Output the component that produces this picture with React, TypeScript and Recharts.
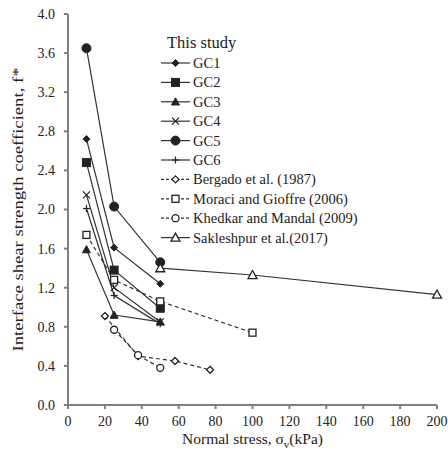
import { LineChart, Line, XAxis, YAxis } from "recharts";

const STUDY_STRESS = [10, 25, 50];
const GC1 = [2.72, 1.61, 1.24];
const GC2 = [2.48, 1.38, 0.99];
const GC3 = [1.59, 0.92, 0.85];
const GC4 = [2.15, 1.2, 0.85];
const GC5 = [3.65, 2.03, 1.46];
const GC6 = [2.01, 1.12, 0.83];

const BERGADO_STRESS = [20, 38, 58, 77];
const BERGADO = [0.91, 0.5, 0.45, 0.36];
const MORACI_STRESS = [10, 25, 50, 100];
const MORACI = [1.74, 1.28, 1.06, 0.74];
const KHEDKAR_STRESS = [25, 38, 50];
const KHEDKAR = [0.77, 0.51, 0.38];
const SAKLESHPUR_STRESS = [50, 100, 200];
const SAKLESHPUR = [1.4, 1.33, 1.13];

const X_TICKS = [0, 20, 40, 60, 80, 100, 120, 140, 160, 180, 200];
const Y_TICKS = [0, 0.4, 0.8, 1.2, 1.6, 2.0, 2.4, 2.8, 3.2, 3.6, 4.0];

type MarkerType = "diamond" | "square" | "triangle" | "cross" | "circle" | "plus";

interface SeriesDef {
  name: string;
  xs: number[];
  ys: number[];
  marker: MarkerType;
  filled: boolean;
  dashed: boolean;
  size: number;
}

const SERIES: SeriesDef[] = [
  { name: "GC1", xs: STUDY_STRESS, ys: GC1, marker: "diamond", filled: true, dashed: false, size: 3.5 },
  { name: "GC2", xs: STUDY_STRESS, ys: GC2, marker: "square", filled: true, dashed: false, size: 4 },
  { name: "GC3", xs: STUDY_STRESS, ys: GC3, marker: "triangle", filled: true, dashed: false, size: 4 },
  { name: "GC4", xs: STUDY_STRESS, ys: GC4, marker: "cross", filled: true, dashed: false, size: 3.5 },
  { name: "GC5", xs: STUDY_STRESS, ys: GC5, marker: "circle", filled: true, dashed: false, size: 4.5 },
  { name: "GC6", xs: STUDY_STRESS, ys: GC6, marker: "plus", filled: true, dashed: false, size: 3.5 },
  { name: "Bergado et al. (1987)", xs: BERGADO_STRESS, ys: BERGADO, marker: "diamond", filled: false, dashed: true, size: 3.5 },
  { name: "Moraci and Gioffre (2006)", xs: MORACI_STRESS, ys: MORACI, marker: "square", filled: false, dashed: true, size: 3.5 },
  { name: "Khedkar and Mandal (2009)", xs: KHEDKAR_STRESS, ys: KHEDKAR, marker: "circle", filled: false, dashed: true, size: 3.5 },
  { name: "Sakleshpur et al.(2017)", xs: SAKLESHPUR_STRESS, ys: SAKLESHPUR, marker: "triangle", filled: false, dashed: false, size: 4.5 },
];

const INK = "#222";
const LINE = "#333";
const AXIS = "#808080";
const FONT = "'Liberation Serif', 'DejaVu Serif', serif";

function Marker({ type, cx, cy, filled, size }: { type: MarkerType; cx: number; cy: number; filled: boolean; size: number }) {
  const fill = filled ? INK : "#fff";
  const s = size;
  const sw = filled ? 1 : 1.3;
  switch (type) {
    case "diamond":
      return <polygon points={`${cx},${cy - s} ${cx + s},${cy} ${cx},${cy + s} ${cx - s},${cy}`} fill={fill} stroke={INK} strokeWidth={sw} />;
    case "square":
      return <rect x={cx - s} y={cy - s} width={2 * s} height={2 * s} fill={fill} stroke={INK} strokeWidth={sw} />;
    case "triangle":
      return <polygon points={`${cx},${cy - s} ${cx + s},${cy + s * 0.8} ${cx - s},${cy + s * 0.8}`} fill={fill} stroke={INK} strokeWidth={sw} />;
    case "circle":
      return <circle cx={cx} cy={cy} r={s} fill={fill} stroke={INK} strokeWidth={sw} />;
    case "cross":
      return (
        <g stroke={INK} strokeWidth={1.2}>
          <line x1={cx - s} y1={cy - s} x2={cx + s} y2={cy + s} />
          <line x1={cx - s} y1={cy + s} x2={cx + s} y2={cy - s} />
        </g>
      );
    case "plus":
      return (
        <g stroke={INK} strokeWidth={1.2}>
          <line x1={cx - s} y1={cy} x2={cx + s} y2={cy} />
          <line x1={cx} y1={cy - s} x2={cx} y2={cy + s} />
        </g>
      );
  }
}

function LegendBox() {
  const rowH = 19.4;
  return (
    <svg width={280} height={250} style={{ position: "absolute", left: 161, top: 0, overflow: "visible" }}>
      <text x={6} y={48} fontFamily={FONT} fontSize={16.5} fill={INK}>
        This study
      </text>
      {SERIES.map((s, i) => {
        const cy = 63 + i * rowH;
        return (
          <g key={s.name}>
            <line x1={0} y1={cy} x2={29} y2={cy} stroke={LINE} strokeWidth={1.2} strokeDasharray={s.dashed ? "3 2" : undefined} />
            <Marker type={s.marker} cx={14.5} cy={cy} filled={s.filled} size={s.size} />
            <text x={32} y={cy + 5} fontFamily={FONT} fontSize={14.5} fill={INK}>
              {s.name}
            </text>
          </g>
        );
      })}
    </svg>
  );
}

function XLabel(props: any) {
  const vb = props.viewBox || {};
  const cx = vb.x + vb.width / 2;
  return (
    <text x={cx} y={444} textAnchor="middle" fontFamily={FONT} fontSize={15.5} fill={INK}>
      Normal stress, σ
      <tspan fontSize={11} dy={4}>v</tspan>
      <tspan dy={-4}>(kPa)</tspan>
    </text>
  );
}

function YLabel(props: any) {
  const vb = props.viewBox || {};
  const cy = vb.y + vb.height / 2;
  return (
    <text
      x={18}
      y={cy}
      transform={`rotate(-90 18 ${cy})`}
      textAnchor="middle"
      dominantBaseline="central"
      fontFamily={FONT}
      fontSize={15}
      textLength={284}
      lengthAdjust="spacingAndGlyphs"
      fill={INK}
    >
      Interface shear strength coefficient, f*
    </text>
  );
}

export default function App() {
  return (
    <div style={{ position: "absolute", left: 0, top: 0, width: 448, height: 454, background: "#fff" }}>
      <LineChart width={448} height={454} margin={{ top: 14, right: 11, left: 0, bottom: 0 }}>
        <XAxis
          type="number"
          dataKey="x"
          domain={[0, 200]}
          ticks={X_TICKS}
          interval={0}
          allowDuplicatedCategory={false}
          height={49}
          stroke={AXIS}
          strokeWidth={2}
          tickSize={4}
          tickMargin={7}
          tick={{ fontFamily: FONT, fontSize: 14, fill: INK }}
          label={<XLabel />}
        />
        <XAxis xAxisId="top" orientation="top" type="number" domain={[0, 200]} tick={false} tickLine={false} height={0} stroke={AXIS} strokeWidth={2} />
        <YAxis
          type="number"
          domain={[0, 4]}
          ticks={Y_TICKS}
          interval={0}
          width={68}
          stroke={AXIS}
          strokeWidth={2}
          tickSize={4}
          tickMargin={9}
          tickFormatter={(v: number) => v.toFixed(1)}
          tick={{ fontFamily: FONT, fontSize: 14, fill: INK }}
          label={<YLabel />}
        />
        <YAxis yAxisId="right" orientation="right" type="number" domain={[0, 4]} tick={false} tickLine={false} width={0} stroke={AXIS} strokeWidth={2} />
        {SERIES.map((s) => (
          <Line
            key={s.name}
            name={s.name}
            data={s.xs.map((x, i) => ({ x, y: s.ys[i] }))}
            dataKey="y"
            stroke={LINE}
            strokeWidth={1.2}
            strokeDasharray={s.dashed ? "4 3" : undefined}
            isAnimationActive={false}
            dot={(p: any) => (
              <Marker key={`${s.name}-${p.index}`} type={s.marker} cx={p.cx} cy={p.cy} filled={s.filled} size={s.size} />
            )}
            activeDot={false}
          />
        ))}
      </LineChart>
      <LegendBox />
    </div>
  );
}
